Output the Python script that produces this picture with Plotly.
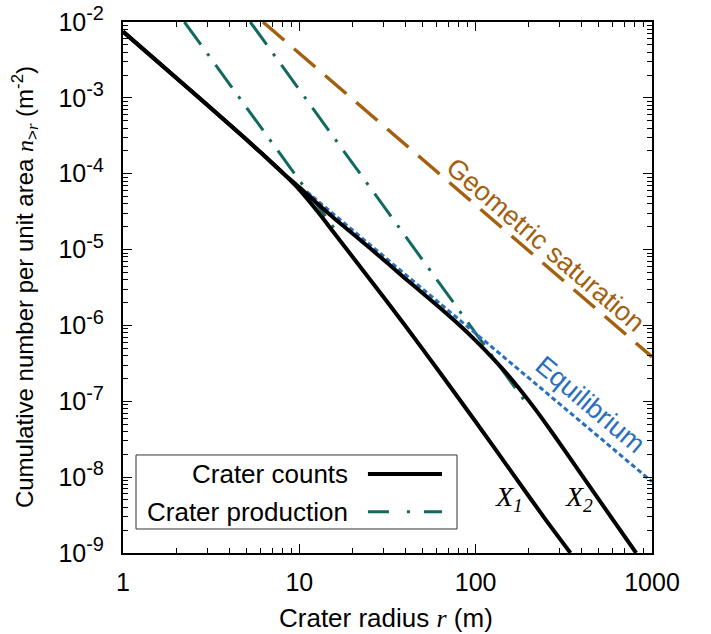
import plotly.graph_objects as go

# ---------------- data ----------------
common_r = [1, 2, 4, 6, 8]
common_n = [7.5e-3, 1.84e-3, 4.5e-4, 1.93e-4, 1.04e-4]

x1_r = [10, 12.6, 15.8, 25.1, 39.8, 63.1, 100, 158.5, 251, 345]
x1_n = [6.17e-5, 3.24e-5, 1.64e-5, 4.07e-6, 1.0e-6, 2.34e-7, 5.37e-8,
        1.20e-8, 2.69e-9, 1.0e-9]

x2_r = [10, 12.6, 15.8, 25.1, 39.8, 50.1, 63.1, 79.4, 100, 126, 158.5, 200,
        251, 316, 501, 813]
x2_n = [6.61e-5, 4.07e-5, 2.57e-5, 1.05e-5, 4.17e-6, 2.66e-6, 1.68e-6,
        1.05e-6, 6.31e-7, 3.63e-7, 2.0e-7, 1.02e-7, 5.01e-8, 2.34e-8, 5.01e-9, 1.0e-9]

prod1_r = [2.23, 5, 10, 17]
prod1_n = [1e-2, 7.5e-4, 8.2e-5, 1.50e-5]

prod2_r = [5.27, 10, 30, 100, 195]
prod2_n = [1e-2, 1.28e-3, 3.77e-5, 7.9e-7, 9.25e-8]

equil_r = [11, 20, 50, 100, 200, 500, 1000]
equil_n = [5.82e-5, 1.82e-5, 3.02e-6, 7.94e-7, 2.04e-7, 3.39e-8, 8.71e-9]

geo_r = [6.22, 100, 1000]
geo_n = [1e-2, 3.85e-5, 3.85e-7]

x_tickvals = [1, 10, 100, 1000]
x_ticktext = ["1", "10", "100", "1000"]
y_exps = [-2, -3, -4, -5, -6, -7, -8, -9]

# ---------------- styles ----------------
BLACK = "black"
TEAL = "#12695d"
BROWN = "#a3600f"
BLUE = "#2a6fbf"
FONT = "Liberation Sans, Arial, Helvetica, sans-serif"
SERIF = "Liberation Serif, Times New Roman, serif"
DASHDOT = "28px,11px,3px,11px"
SER = "<span style=\"font-family:'Liberation Serif'\"><i>%s</i></span>"

fig = go.Figure()

fig.add_trace(go.Scatter(x=geo_r, y=geo_n, mode="lines",
                         line=dict(color=BROWN, width=3.5, dash="28px,13px"),
                         showlegend=False, hoverinfo="skip"))
fig.add_trace(go.Scatter(x=prod1_r, y=prod1_n, mode="lines",
                         line=dict(color=TEAL, width=3, dash=DASHDOT),
                         showlegend=False, hoverinfo="skip"))
fig.add_trace(go.Scatter(x=prod2_r, y=prod2_n, mode="lines",
                         line=dict(color=TEAL, width=3, dash=DASHDOT),
                         showlegend=False, hoverinfo="skip"))
fig.add_trace(go.Scatter(x=equil_r, y=equil_n, mode="lines",
                         line=dict(color=BLUE, width=3, dash="5px,3px"),
                         showlegend=False, hoverinfo="skip"))
fig.add_trace(go.Scatter(x=common_r + x1_r, y=common_n + x1_n, mode="lines",
                         line=dict(color=BLACK, width=4, shape="spline", smoothing=0.6),
                         showlegend=False, hoverinfo="skip"))
fig.add_trace(go.Scatter(x=common_r + x2_r, y=common_n + x2_n, mode="lines",
                         line=dict(color=BLACK, width=4, shape="spline", smoothing=0.6),
                         showlegend=False, hoverinfo="skip"))

minor_x = [m * 10 ** d for d in range(0, 3) for m in range(2, 10)]
minor_y = [m * 10.0 ** d for d in range(-9, -2) for m in range(2, 10)]

axis_common = dict(
    showline=True, linecolor="black", linewidth=2, mirror="allticks",
    ticks="inside", ticklen=9, tickwidth=1.2, tickcolor="black",
    showgrid=False, zeroline=False, automargin=False,
    tickfont=dict(family=FONT, size=25, color="black"),
)

fig.update_xaxes(type="log", range=[0, 3], tickmode="array",
                 tickvals=x_tickvals, ticktext=x_ticktext, ticklabelstandoff=6,
                 minor=dict(tickmode="array", tickvals=minor_x, ticks="inside",
                            ticklen=5, tickwidth=1, tickcolor="black", showgrid=False),
                 **axis_common)
fig.update_yaxes(type="log", range=[-9, -2], tickmode="array",
                 tickvals=[10.0 ** e for e in y_exps],
                 ticktext=["10<sup><span style='font-size:20px'>%d</span></sup>" % e for e in y_exps],
                 ticklabelstandoff=12,
                 minor=dict(tickmode="array", tickvals=minor_y, ticks="inside",
                            ticklen=5, tickwidth=1, tickcolor="black", showgrid=False),
                 **axis_common)

annotations = [
    dict(text="Geometric saturation", x=2.396, y=-4.943, xref="x", yref="y",
         textangle=40.6, showarrow=False, font=dict(family=FONT, size=27, color=BROWN)),
    dict(text="Equilibrium", x=2.651, y=-7.055, xref="x", yref="y",
         textangle=40.2, showarrow=False, font=dict(family=FONT, size=27, color=BLUE)),
    dict(text="<i>X</i><sub><i>1</i></sub>", x=2.19, y=-8.28, xref="x", yref="y",
         showarrow=False, font=dict(family=SERIF, size=28, color="black")),
    dict(text="<i>X</i><sub><i>2</i></sub>", x=2.585, y=-8.28, xref="x", yref="y",
         showarrow=False, font=dict(family=SERIF, size=28, color="black")),
    # axis titles
    dict(text="Crater radius " + (SER % "r") + " (m)",
         x=0.497, y=-0.122, xref="paper", yref="paper", showarrow=False,
         xanchor="center", yanchor="middle", font=dict(family=FONT, size=26, color="black")),
    dict(text="Cumulative number per unit area " + (SER % "n") +
              "<sub>&gt;" + (SER % "r") + "</sub> (m<sup>-2</sup>)",
         x=-0.186, y=0.5, xref="paper", yref="paper", showarrow=False, textangle=-90,
         xanchor="center", yanchor="middle", font=dict(family=FONT, size=24, color="black")),
    # legend text
    dict(text="Crater counts", x=0.429, y=0.1488, xref="paper", yref="paper",
         xanchor="right", yanchor="middle", showarrow=False,
         font=dict(family=FONT, size=26, color="black")),
    dict(text="Crater production", x=0.429, y=0.0778, xref="paper", yref="paper",
         xanchor="right", yanchor="middle", showarrow=False,
         font=dict(family=FONT, size=26, color="black")),
]

shapes = [
    dict(type="rect", xref="paper", yref="paper", x0=0.0246, x1=0.6314, y0=0.0452, y1=0.1846,
         line=dict(color="#333333", width=1), fillcolor="white", layer="above"),
    dict(type="line", xref="paper", yref="paper", x0=0.463, x1=0.603, y0=0.1488, y1=0.1488,
         line=dict(color=BLACK, width=4)),
    dict(type="line", xref="paper", yref="paper", x0=0.463, x1=0.603, y0=0.0778, y1=0.0778,
         line=dict(color=TEAL, width=3, dash="21px,18px,3px,14px")),
]

fig.update_layout(
    width=711, height=634,
    margin=dict(l=123, r=59, t=22, b=81),
    plot_bgcolor="white", paper_bgcolor="white",
    showlegend=False,
    annotations=annotations, shapes=shapes,
    font=dict(family=FONT, size=25, color="black"),
)

fig.write_html("out.html", config={"displayModeBar": False},
               post_script="document.body.style.margin='0';document.body.style.overflow='hidden';")
